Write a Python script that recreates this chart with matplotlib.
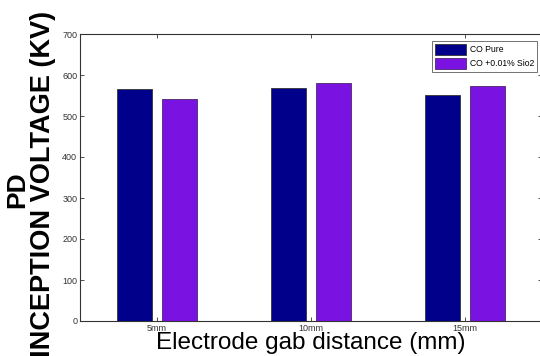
import matplotlib
matplotlib.use("Agg")
import matplotlib.pyplot as plt
import numpy as np

categories = ["5mm", "10mm", "15mm"]
co_pure = [565, 569, 551]
co_sio2 = [542, 580, 572]
series_names = ["CO Pure", "CO +0.01% Sio2"]
yticks = [0, 100, 200, 300, 400, 500, 600, 700]

plt.rcParams['font.family'] = ['Liberation Sans', 'DejaVu Sans']

fig = plt.figure(figsize=(5.4, 3.56), dpi=100)
ax = fig.add_axes([80/540, 1-321/356, 462/540, 287/356])

x = np.arange(1, len(categories)+1)
off = 0.143
w = 0.227
ax.bar(x - off, co_pure, w, color='#00008A', edgecolor='#333333', linewidth=0.6, label=series_names[0])
ax.bar(x + off, co_sio2, w, color='#7A12E2', edgecolor='#4a2a6a', linewidth=0.6, label=series_names[1])

ax.set_xlim(0.5, 3.5)
ax.set_ylim(0, 700)
ax.set_xticks(x)
ax.set_xticklabels(categories, fontsize=6.5)
ax.set_yticks(yticks)
ax.set_yticklabels([str(v) for v in yticks], fontsize=6.5)
ax.tick_params(direction='in', length=3, width=0.6, top=True, right=True, colors='#333333', pad=2)
for s in ax.spines.values():
    s.set_linewidth(0.8)
    s.set_color('#333333')

leg = ax.legend(loc='upper right', bbox_to_anchor=(537/540, 1-41/356), bbox_transform=fig.transFigure,
                borderaxespad=0, fontsize=6.2, frameon=True, fancybox=False, edgecolor='#333333',
                handlelength=3.6, handleheight=1.6, borderpad=0.35, labelspacing=0.3, handletextpad=0.4)
leg.get_frame().set_linewidth(0.6)

fig.text(311/540, 1-343/356, "Electrode gab distance (mm)", fontsize=17.5, ha='center', va='center', color='black')
fig.text(17/540, 1-190/356, "PD", fontsize=19, fontweight='bold', rotation=90, ha='center', va='center')
fig.text(43/540, 1-184/356, "INCEPTION VOLTAGE (KV)", fontsize=19.5, fontweight='bold', rotation=90, ha='center', va='center')

fig.savefig("out.png", dpi=100)
